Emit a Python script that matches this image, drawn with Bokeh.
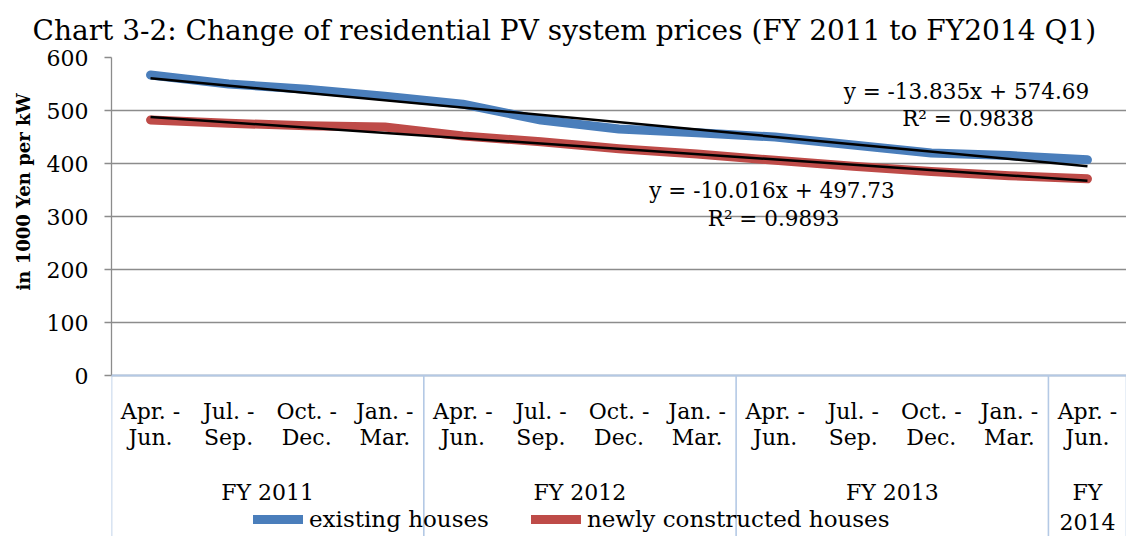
from bokeh.plotting import figure
from bokeh.models import Range1d, FixedTicker, Legend, LegendItem, Label, Span, Title
from bokeh.core.properties import value
from bokeh.embed import file_html
from bokeh.resources import INLINE

# ---- data ----
quarters = ["Apr. -\nJun.", "Jul. -\nSep.", "Oct. -\nDec.", "Jan. -\nMar.",
            "Apr. -\nJun.", "Jul. -\nSep.", "Oct. -\nDec.", "Jan. -\nMar.",
            "Apr. -\nJun.", "Jul. -\nSep.", "Oct. -\nDec.", "Jan. -\nMar.",
            "Apr. -\nJun."]
years = ["FY 2011", "FY 2012", "FY 2013", "FY\n2014"]
year_sizes = [4, 4, 4, 1]
existing = [567, 550, 540, 527, 512, 482, 465, 458, 450, 435, 420, 415, 407]
newly = [482, 476, 471, 469, 452, 441, 428, 418, 406, 395, 385, 377, 371]
trend_existing = {"slope": -13.835, "intercept": 574.69, "r2": 0.9838}
trend_newly = {"slope": -10.016, "intercept": 497.73, "r2": 0.9893}
y_ticks = [0, 100, 200, 300, 400, 500, 600]
chart_title = "Chart 3-2: Change of residential PV system prices (FY 2011 to FY2014 Q1)"

FONT = "DejaVu Serif"
BLUE = "#4a7ebb"
RED = "#be4b48"
GRID = "#8c8c8c"
AXBLUE = "#b4c9e5"

# ---- layout constants (pixels) ----
W, H = 1126, 536
TOP, LEFT = 57, 97
PLOT_H = 318               # pixel height of the 0..600 value band
BELOW = H - TOP - PLOT_H   # category-label band under the value axis

n = len(quarters)
xs = list(range(1, n + 1))

bounds = [0.5]
centres = []
for s in year_sizes:
    centres.append(bounds[-1] + s / 2)
    bounds.append(bounds[-1] + s)

ymax = y_ticks[-1]
ymin = -ymax * BELOW / PLOT_H

p = figure(width=W, height=H, x_range=Range1d(0.5, n + 0.5), y_range=Range1d(ymin, ymax),
           output_backend="svg", toolbar_location=None, x_axis_type=None,
           min_border_left=LEFT, min_border_right=0, min_border_top=TOP, min_border_bottom=0)
p.outline_line_color = None

# title
p.title.text = chart_title
p.title.text_font = FONT
p.title.text_font_size = "28px"
p.title.text_font_style = "normal"
p.title.text_color = "black"
p.title.align = "left"
p.title.offset = -79
p.title.standoff = 22

# y axis (ticks + labels only over 0..600)
yax = p.yaxis[0]
yax.ticker = FixedTicker(ticks=y_ticks, minor_ticks=[])
yax.bounds = (y_ticks[0], y_ticks[-1])
yax.major_label_text_font = FONT
yax.major_label_text_font_size = "22px"
yax.major_label_text_color = "black"
yax.major_label_standoff = 16
yax.axis_line_color = GRID
yax.axis_line_width = 1.3
yax.major_tick_line_color = GRID
yax.major_tick_line_width = 1.3
yax.major_tick_out = 7
yax.major_tick_in = 0
yax.minor_tick_line_color = None

# y axis title, placed beside the value band
ytitle = Title(text="in 1000 Yen per kW", align="left", offset=H - 290, standoff=20,
               text_font=FONT, text_font_style="bold", text_font_size="18px",
               text_color="black")
p.add_layout(ytitle, "left")

p.xgrid.visible = False
p.ygrid.ticker = FixedTicker(ticks=y_ticks)
p.ygrid.grid_line_color = GRID
p.ygrid.grid_line_width = 1.3

# category axis: baseline, group separators, labels
p.add_layout(Span(location=0, dimension="width", line_color=AXBLUE, line_width=1.8))
p.segment(x0=bounds, y0=[0] * len(bounds), x1=bounds, y1=[ymin] * len(bounds),
          line_color=AXBLUE, line_width=1.6)
p.text(x=xs, y=[0] * n, text=quarters, y_offset=23, text_align="center", text_baseline="top",
       text_font=value(FONT), text_font_size="22px", text_line_height=1.05, text_color="black")
p.text(x=centres, y=[0] * len(centres), text=years, y_offset=104, text_align="center",
       text_baseline="top", text_font=value(FONT), text_font_size="22px",
       text_line_height=1.2, text_color="black")

# series
r1 = p.line(xs, existing, line_color=BLUE, line_width=9, line_cap="round", line_join="round")
r2 = p.line(xs, newly, line_color=RED, line_width=9, line_cap="round", line_join="round")

# trend lines
tx = [xs[0], xs[-1]]
for t in (trend_existing, trend_newly):
    p.line(tx, [t["slope"] * x + t["intercept"] for x in tx], line_color="black", line_width=2.5)

def eq_text(t):
    return "y = %sx + %s" % (t["slope"], t["intercept"])

labels = [
    (11.45, 536, eq_text(trend_existing)),
    (11.47, 485, "R\u00b2 = %s" % trend_existing["r2"]),
    (8.96, 349, eq_text(trend_newly)),
    (8.98, 296, "R\u00b2 = %s" % trend_newly["r2"]),
]
for lx, ly, txt in labels:
    p.add_layout(Label(x=lx, y=ly, text=txt, text_font=FONT, text_font_size="21.5px",
                       text_color="black", text_align="center", text_baseline="middle"))

legend = Legend(items=[LegendItem(label="existing houses", renderers=[r1]),
                       LegendItem(label="newly constructed houses", renderers=[r2])],
                location=(142, 4), orientation="horizontal",
                glyph_width=50, glyph_height=22, label_standoff=6, spacing=42,
                padding=0, margin=0, border_line_color=None, background_fill_alpha=0,
                label_text_font=FONT, label_text_font_size="23px", label_text_color="black")
p.add_layout(legend)

open("out.html", "w").write(file_html(p, INLINE))
